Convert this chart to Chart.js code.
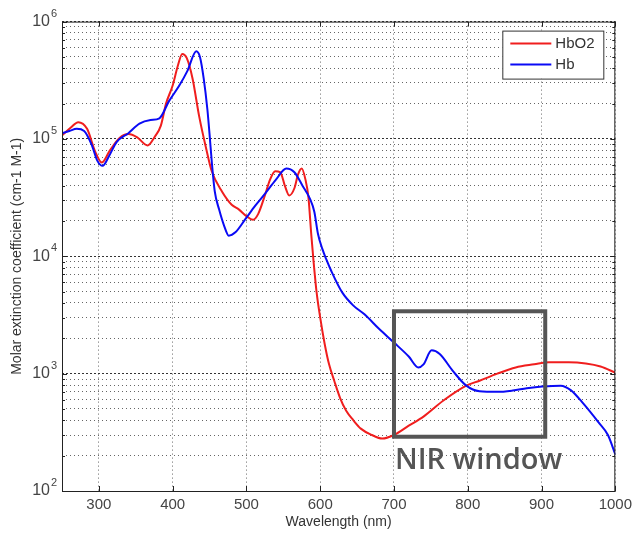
<!DOCTYPE html>
<html>
<head>
<meta charset="utf-8">
<script src="https://cdn.jsdelivr.net/npm/chart.js@4"></script>
<style>
  body { margin: 0; background: #fff; }
  #chart { display: block; }
</style>
</head>
<body>
<canvas id="chart" width="637" height="535"></canvas>
<script>
// oxy-haemoglobin (HbO2) molar extinction
const wlHbO2 = [250, 262, 272, 284, 295, 304, 315, 328, 340, 352, 366, 376, 384, 391, 400, 407, 413, 419, 427, 436, 445,
  453, 467, 480, 490, 500, 509, 516, 525, 532, 539, 546, 552, 558, 565, 570, 575, 580, 584, 588, 591, 595, 600,
  606, 612, 619, 627, 635, 645, 655, 670, 684, 700, 720, 740, 767, 798, 816, 840, 865, 890, 910, 937, 960, 980, 1000];
const hbo2 = [1.07e5, 1.25e5, 1.39e5, 1.22e5, 7.8e4, 6.3e4, 8.0e4, 1.02e5, 1.1e5, 1.03e5, 8.8e4, 1.05e5, 1.3e5, 2.0e5,
  2.85e5, 4.2e5, 5.3e5, 4.9e5, 3.26e5, 1.55e5, 8.5e4, 5.3e4, 3.55e4, 2.75e4, 2.5e4, 2.2e4, 2.05e4, 2.3e4, 3.3e4,
  4.5e4, 5.3e4, 5.2e4, 4.0e4, 3.3e4, 3.8e4, 5.0e4, 5.6e4, 4.5e4, 3.2e4, 1.5e4, 9.0e3, 5.0e3, 3.0e3, 1.8e3, 1.2e3,
  870, 620, 485, 400, 340, 300, 280, 300, 360, 430, 590, 790, 870, 1000, 1130, 1200, 1250, 1250, 1220, 1150, 1020];

// deoxy-haemoglobin (Hb)
const wlHb = [250, 260, 270, 280, 290, 298, 305, 314, 324, 340, 355, 370, 382, 395, 409, 420, 432, 437, 442, 447, 450,
  453, 457, 463, 470, 476, 485, 498, 512, 525, 540, 554, 565, 576, 586, 592, 597, 603, 608, 615, 630, 645, 660,
  680, 700, 720, 733, 740, 751, 762, 780, 798, 816, 840, 861, 880, 901, 926, 940, 955, 977, 990, 1000];
const hb = [1.12e5, 1.17e5, 1.22e5, 1.17e5, 9.0e4, 6.5e4, 5.9e4, 7.2e4, 9.4e4, 1.12e5, 1.35e5, 1.45e5, 1.5e5, 2.1e5,
  2.85e5, 3.8e5, 5.6e5, 5.0e5, 3.3e5, 1.8e5, 1.1e5, 6.4e4, 3.6e4, 2.5e4, 1.8e4, 1.5e4, 1.6e4, 2.05e4, 2.7e4, 3.4e4,
  4.5e4, 5.6e4, 5.2e4, 4.0e4, 3.1e4, 2.4e4, 1.55e4, 1.15e4, 9.5e3, 7.5e3, 4.9e3, 3.8e3, 3.2e3, 2.4e3, 1.84e3,
  1.4e3, 1.13e3, 1.2e3, 1.58e3, 1.47e3, 1.05e3, 790, 708, 700, 718, 750, 776, 790, 720, 571, 386, 300, 205];

const xTicks = [300, 400, 500, 600, 700, 800, 900, 1000];
const yDecades = [100, 1000, 10000, 100000, 1000000];
const nirWindow = { x: [700, 905], y: [290, 3400], label: 'NIR window', labelY: 155 };

// every 1..9 x 10^n for the minor grid
const yTicks = [];
yDecades.forEach((d, i) => {
  if (i === yDecades.length - 1) { yTicks.push(d); return; }
  for (let m = 1; m <= 9; m++) yTicks.push(m * d);
});

const isDecade = v => Math.abs(Math.log10(v) - Math.round(Math.log10(v))) < 1e-9;

const toPoints = (xs, ys) => xs.map((x, i) => ({ x: x, y: ys[i] }));

const FONT = '"Liberation Sans", Arial, sans-serif';

const framePlugin = {
  id: 'frame',
  afterDatasetsDraw(chart) {
    const { ctx, chartArea: a, scales } = chart;
    const xs = scales.x, ys = scales.y;
    ctx.save();

    // exponents next to the "10" tick labels
    ctx.fillStyle = '#444';
    ctx.font = '11px ' + FONT;
    ctx.textAlign = 'left';
    ctx.textBaseline = 'middle';
    yDecades.forEach(d => {
      ctx.fillText(String(Math.round(Math.log10(d))), a.left - 11, ys.getPixelForValue(d) - 8);
    });

    // axes box
    ctx.strokeStyle = '#222';
    ctx.lineWidth = 1;
    ctx.strokeRect(a.left + 0.5, a.top + 0.5, a.right - a.left - 1, a.bottom - a.top);

    // inward tick marks
    ctx.beginPath();
    xTicks.forEach(v => {
      const px = Math.round(xs.getPixelForValue(v)) + 0.5;
      ctx.moveTo(px, a.bottom); ctx.lineTo(px, a.bottom - 5);
      ctx.moveTo(px, a.top); ctx.lineTo(px, a.top + 5);
    });
    yTicks.forEach(v => {
      const py = Math.round(ys.getPixelForValue(v)) + 0.5;
      const len = isDecade(v) ? 5 : 3;
      ctx.moveTo(a.left, py); ctx.lineTo(a.left + len, py);
      ctx.moveTo(a.right, py); ctx.lineTo(a.right - len, py);
    });
    ctx.stroke();

    // NIR window box
    const x1 = xs.getPixelForValue(nirWindow.x[0]);
    const x2 = xs.getPixelForValue(nirWindow.x[1]);
    const y1 = ys.getPixelForValue(nirWindow.y[1]);
    const y2 = ys.getPixelForValue(nirWindow.y[0]);
    ctx.strokeStyle = '#555';
    ctx.lineWidth = 4;
    ctx.strokeRect(x1, y1, x2 - x1, y2 - y1);
    ctx.fillStyle = '#555';
    ctx.font = '600 29px "Open Sans", sans-serif';
    ctx.textAlign = 'left';
    ctx.textBaseline = 'alphabetic';
    ctx.fillText(nirWindow.label, x1 + 1, ys.getPixelForValue(nirWindow.labelY));

    // legend
    const lw = 101, lh = 48;
    const lx = a.right - 12 - lw, ly = a.top + 9;
    ctx.fillStyle = '#fff';
    ctx.fillRect(lx, ly, lw, lh);
    ctx.strokeStyle = '#333';
    ctx.lineWidth = 1;
    ctx.strokeRect(lx + 0.5, ly + 0.5, lw, lh);
    ctx.font = '15px ' + FONT;
    ctx.textBaseline = 'middle';
    chart.data.datasets.forEach((ds, i) => {
      const yy = ly + 13 + i * 21;
      ctx.strokeStyle = ds.borderColor;
      ctx.lineWidth = 2;
      ctx.beginPath();
      ctx.moveTo(lx + 8, yy); ctx.lineTo(lx + 49, yy);
      ctx.stroke();
      ctx.fillStyle = '#333';
      ctx.fillText(ds.label, lx + 53, yy);
    });
    ctx.restore();
  }
};

new Chart(document.getElementById('chart'), {
  type: 'line',
  data: {
    datasets: [
      {
        label: 'HbO2',
        data: toPoints(wlHbO2, hbo2),
        borderColor: 'rgb(240,30,30)',
        borderWidth: 2,
        pointRadius: 0,
        cubicInterpolationMode: 'monotone',
        order: 1
      },
      {
        label: 'Hb',
        data: toPoints(wlHb, hb),
        borderColor: 'rgb(10,10,245)',
        borderWidth: 2,
        pointRadius: 0,
        cubicInterpolationMode: 'monotone',
        order: 0
      }
    ]
  },
  options: {
    responsive: false,
    animation: false,
    layout: { padding: { top: 19, right: 18, left: 0, bottom: 0 } },
    plugins: {
      legend: { display: false },
      tooltip: { enabled: false }
    },
    scales: {
      x: {
        type: 'linear',
        min: 250,
        max: 1000,
        afterBuildTicks: axis => { axis.ticks = xTicks.map(v => ({ value: v })); },
        afterFit: scale => { scale.height = 44; },
        grid: { color: '#666', lineWidth: 1, drawTicks: false },
        border: { display: false, dash: [1, 3] },
        ticks: {
          color: '#444',
          font: { family: FONT, size: 15 },
          padding: 5,
          maxRotation: 0,
          callback: v => String(v)
        },
        title: {
          display: true,
          text: 'Wavelength (nm)',
          color: '#333',
          font: { family: FONT, size: 14 },
          padding: { top: 0, bottom: 4 }
        }
      },
      y: {
        type: 'logarithmic',
        min: 100,
        max: 1000000,
        afterBuildTicks: axis => { axis.ticks = yTicks.map(v => ({ value: v, major: isDecade(v) })); },
        afterFit: scale => { scale.width = 62; },
        grid: {
          color: ctx => (ctx.tick && isDecade(ctx.tick.value)) ? '#333' : '#666',
          lineWidth: 1,
          drawTicks: false
        },
        border: {
          display: false,
          dash: ctx => (ctx.tick && isDecade(ctx.tick.value)) ? [2, 2] : [1, 3]
        },
        ticks: {
          color: '#444',
          font: { family: FONT, size: 16 },
          padding: 12,
          autoSkip: false,
          callback: v => isDecade(v) ? '10' : ''
        },
        title: {
          display: true,
          text: 'Molar extinction coefficient (cm-1 M-1)',
          color: '#333',
          font: { family: FONT, size: 14 },
          padding: { top: 9, bottom: 0 }
        }
      }
    }
  },
  plugins: [framePlugin]
});
</script>
</body>
</html>
